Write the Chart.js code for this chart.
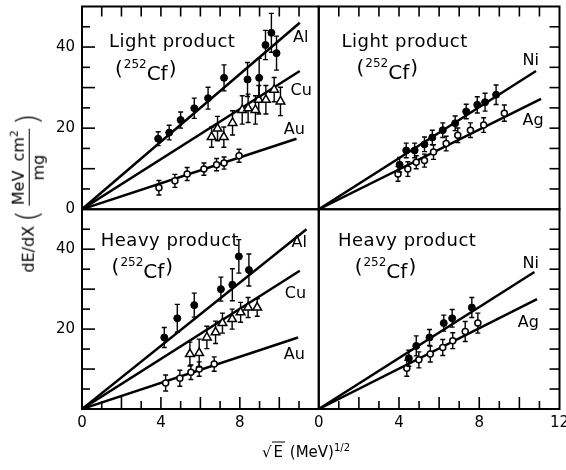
<!DOCTYPE html>
<html>
<head>
<meta charset="utf-8">
<script src="https://cdn.jsdelivr.net/npm/chart.js@4.4.0/dist/chart.umd.min.js"></script>
<style>
  html, body { margin: 0; padding: 0; background: #fff; }
  #wrap { position: relative; width: 566px; height: 470px; }
  #chart { position: absolute; left: 0; top: 0; }
  #ytitle {
    position: absolute; left: 28px; top: 191px;
    transform: translate(-50%, -50%) rotate(-90deg);
    display: flex; align-items: center; white-space: nowrap;
    font: 16px "DejaVu Sans", sans-serif; color: #000;
  }
  #ytitle .paren { font-size: 30px; font-weight: 200; line-height: 1; margin: 0 4px; }
  #ytitle .frac { display: inline-flex; flex-direction: column; align-items: center; line-height: 1.1; }
  #ytitle .num { border-bottom: 1.5px solid #000; padding: 0 1px 1px; word-spacing: 4px; }
  #ytitle sup { font-size: 11px; }
  #xtitle {
    position: absolute; left: 306px; top: 451px;
    transform: translate(-50%, -50%);
    white-space: nowrap; font: 15px "DejaVu Sans", sans-serif; color: #000;
  }
  #xtitle .radE { border-top: 1.5px solid #000; padding: 0 2px; }
  #xtitle sup { font-size: 10px; }
</style>
</head>
<body>
<div id="wrap">
  <canvas id="chart" width="566" height="470"></canvas>
  <div id="ytitle"><span>dE/dX</span><span class="paren">(</span><span class="frac"><span class="num">MeV cm<sup>2</sup></span><span>mg</span></span><span class="paren">)</span></div>
  <div id="xtitle">√<span class="radE">E</span> (MeV)<sup>1/2</sup></div>
</div>
<script>
// tick labels
const xLabelsLeft = [0, 4, 8];
const xLabelsRight = [0, 4, 8, 12];
const yLabelsTop = [0, 20, 40];
const yLabelsBottom = [20, 40];

// Light product (252Cf) - top row
const lightAlX = [3.86, 4.42, 5.0, 5.69, 6.39, 7.2, 8.39, 8.98, 9.3, 9.6, 9.86];
const lightAlY = [17.4, 18.9, 22, 24.9, 27.4, 32.4, 32, 32.4, 40.5, 43.5, 38.5];
const lightAlErr = [1.7, 1.8, 2, 2.5, 2.7, 3.2, 4.2, 4.8, 3.6, 4.8, 4.2];
const lightCuX = [6.57, 6.87, 7.19, 7.63, 8.12, 8.42, 8.79, 8.96, 9.32, 9.74, 10.06];
const lightCuY = [17.8, 19.9, 17.8, 21.3, 24.5, 24.9, 24.5, 27, 27, 29.5, 26.6];
const lightCuErr = [2.5, 3, 2.5, 3, 3.5, 3.5, 3.5, 3.5, 3.5, 3, 3.5];
const lightAuX = [3.9, 4.71, 5.33, 6.18, 6.82, 7.2, 7.96];
const lightAuY = [5.3, 7, 8.7, 9.9, 11, 11.4, 13.2];
const lightAuErr = [1.8, 1.6, 1.6, 1.5, 1.5, 1.5, 1.6];
const lightNiX = [4.03, 4.36, 4.78, 5.27, 5.66, 6.18, 6.8, 7.35, 7.9, 8.29, 8.84];
const lightNiY = [11, 14.5, 14.5, 16, 17.7, 19.5, 21.2, 24.1, 25.75, 26.4, 28.25];
const lightNiErr = [1.8, 1.8, 1.8, 1.8, 1.8, 1.8, 1.8, 1.8, 2, 2.2, 2.4];
const lightAgX = [3.95, 4.44, 4.86, 5.27, 5.72, 6.35, 6.93, 7.56, 8.22, 9.25];
const lightAgY = [8.7, 9.9, 11.6, 12, 14.1, 16.2, 18.25, 19.5, 20.75, 23.7];
const lightAgErr = [1.8, 1.8, 1.6, 1.6, 1.8, 1.8, 1.8, 1.8, 1.8, 2];

// Heavy product (252Cf) - bottom row
const heavyAlX = [4.17, 4.83, 5.69, 7.04, 7.62, 7.95, 8.46];
const heavyAlY = [17.9, 22.7, 26, 30, 31.1, 38.2, 34.8];
const heavyAlErr = [2.5, 3.5, 3, 3, 4, 4.2, 4];
const heavyCuX = [5.47, 5.94, 6.33, 6.77, 7.12, 7.61, 8.04, 8.42, 8.88];
const heavyCuY = [13.75, 14, 17.9, 19.2, 21.5, 22.5, 24.2, 25.4, 25.4];
const heavyCuErr = [3, 3.5, 2.8, 2.8, 2.5, 2.5, 2.5, 2.5, 2.2];
const heavyAuX = [4.24, 4.96, 5.52, 5.94, 6.7];
const heavyAuY = [6.5, 7.7, 9.2, 10, 11.25];
const heavyAuErr = [2, 2, 1.8, 1.8, 1.8];
const heavyNiX = [4.49, 4.86, 5.52, 6.23, 6.65, 7.63];
const heavyNiY = [12.7, 15.8, 17.9, 21.5, 22.7, 25.4];
const heavyNiErr = [2, 2.5, 2, 2, 2.2, 2.5];
const heavyAgX = [4.39, 4.99, 5.56, 6.18, 6.68, 7.3, 7.93];
const heavyAgY = [10.2, 12.3, 13.75, 15.4, 17.1, 19.4, 21.5];
const heavyAgErr = [2, 2, 2, 2, 2, 2.5, 2.5];

// fitted straight lines through the origin: [x end, y end]
const lightAlLine = [11.04, 46];
const lightCuLine = [11.04, 34.1];
const lightAuLine = [10.87, 17.4];
const lightNiLine = [10.83, 34.1];
const lightAgLine = [11.08, 27.2];
const heavyAlLine = [11.38, 45];
const heavyCuLine = [11.04, 34.6];
const heavyAuLine = [10.95, 17.9];
const heavyNiLine = [10.75, 34.3];
const heavyAgLine = [10.88, 27.5];

// panel text
const panelNames = ['Light product', 'Light product', 'Heavy product', 'Heavy product'];

const panels = [
  {x: 'xL', y: 'yT', name: panelNames[0], nameAt: [1.37, 40], cfAt: [1.67, 31.8],
   tags: [['Al', 10.7, 41.2], ['Cu', 10.57, 28.1], ['Au', 10.23, 18.6]]},
  {x: 'xR', y: 'yT', name: panelNames[1], nameAt: [1.13, 40], cfAt: [1.88, 32.2],
   tags: [['Ni', 10.16, 35.5], ['Ag', 10.16, 20.7]]},
  {x: 'xL', y: 'yB', name: panelNames[2], nameAt: [0.95, 40.75], cfAt: [1.5, 32.7],
   tags: [['Al', 10.62, 40.6], ['Cu', 10.28, 27.7], ['Au', 10.23, 12.4]]},
  {x: 'xR', y: 'yB', name: panelNames[3], nameAt: [0.96, 40.75], cfAt: [1.79, 32.7],
   tags: [['Ni', 10.16, 35.2], ['Ag', 9.92, 20.6]]}
];

const FONT = '"DejaVu Sans", sans-serif';

const filled = {pointStyle: 'circle', pointRadius: 3.5, backgroundColor: '#000', borderColor: '#000', borderWidth: 1};
const openCircle = {pointStyle: 'circle', pointRadius: 3, backgroundColor: '#fff', borderColor: '#000', borderWidth: 1.5};
const openTriangle = {pointStyle: 'triangle', pointRadius: 5, backgroundColor: '#fff', borderColor: '#000', borderWidth: 1.5};

function marks(label, xs, ys, errs, style, xId, yId) {
  return Object.assign({
    label: label,
    data: xs.map((x, i) => ({x: x, y: ys[i], err: errs[i]})),
    xAxisID: xId,
    yAxisID: yId,
    showLine: false,
    order: 1
  }, style);
}

function fitLine(label, end, xId, yId) {
  return {
    label: label + ' fit',
    type: 'line',
    data: [{x: 0, y: 0}, {x: end[0], y: end[1]}],
    xAxisID: xId,
    yAxisID: yId,
    borderColor: '#000',
    borderWidth: 2.5,
    pointRadius: 0,
    fill: false,
    order: 2
  };
}

const datasets = [
  fitLine('Light Al', lightAlLine, 'xL', 'yT'),
  fitLine('Light Cu', lightCuLine, 'xL', 'yT'),
  fitLine('Light Au', lightAuLine, 'xL', 'yT'),
  fitLine('Light Ni', lightNiLine, 'xR', 'yT'),
  fitLine('Light Ag', lightAgLine, 'xR', 'yT'),
  fitLine('Heavy Al', heavyAlLine, 'xL', 'yB'),
  fitLine('Heavy Cu', heavyCuLine, 'xL', 'yB'),
  fitLine('Heavy Au', heavyAuLine, 'xL', 'yB'),
  fitLine('Heavy Ni', heavyNiLine, 'xR', 'yB'),
  fitLine('Heavy Ag', heavyAgLine, 'xR', 'yB'),
  marks('Light Al', lightAlX, lightAlY, lightAlErr, filled, 'xL', 'yT'),
  marks('Light Cu', lightCuX, lightCuY, lightCuErr, openTriangle, 'xL', 'yT'),
  marks('Light Au', lightAuX, lightAuY, lightAuErr, openCircle, 'xL', 'yT'),
  marks('Light Ni', lightNiX, lightNiY, lightNiErr, filled, 'xR', 'yT'),
  marks('Light Ag', lightAgX, lightAgY, lightAgErr, openCircle, 'xR', 'yT'),
  marks('Heavy Al', heavyAlX, heavyAlY, heavyAlErr, filled, 'xL', 'yB'),
  marks('Heavy Cu', heavyCuX, heavyCuY, heavyCuErr, openTriangle, 'xL', 'yB'),
  marks('Heavy Au', heavyAuX, heavyAuY, heavyAuErr, openCircle, 'xL', 'yB'),
  marks('Heavy Ni', heavyNiX, heavyNiY, heavyNiErr, filled, 'xR', 'yB'),
  marks('Heavy Ag', heavyAgX, heavyAgY, heavyAgErr, openCircle, 'xR', 'yB')
];

// error bars, drawn just before each marker set so markers sit on top
const errorBars = {
  id: 'errorBars',
  beforeDatasetDraw(chart, args) {
    const ds = chart.data.datasets[args.index];
    if (ds.type === 'line') return;
    const meta = args.meta;
    const ys = chart.scales[ds.yAxisID];
    const ctx = chart.ctx;
    ctx.save();
    ctx.strokeStyle = '#000';
    ctx.lineWidth = 1.4;
    meta.data.forEach((pt, i) => {
      const d = ds.data[i];
      const top = ys.getPixelForValue(d.y + d.err);
      const bot = ys.getPixelForValue(d.y - d.err);
      ctx.beginPath();
      ctx.moveTo(pt.x, top); ctx.lineTo(pt.x, bot);
      ctx.moveTo(pt.x - 2.5, top); ctx.lineTo(pt.x + 2.5, top);
      ctx.moveTo(pt.x - 2.5, bot); ctx.lineTo(pt.x + 2.5, bot);
      ctx.stroke();
    });
    ctx.restore();
  }
};

function seg(ctx, x1, y1, x2, y2) {
  ctx.beginPath();
  ctx.moveTo(x1, y1);
  ctx.lineTo(x2, y2);
  ctx.stroke();
}

// frames, inward ticks and panel annotations
const frames = {
  id: 'frames',
  afterDraw(chart) {
    const ctx = chart.ctx;
    const s = chart.scales;
    ctx.save();
    ctx.strokeStyle = '#000';
    ctx.fillStyle = '#000';

    ctx.lineWidth = 2;
    panels.forEach(p => {
      const xs = s[p.x], ys = s[p.y];
      ctx.strokeRect(xs.left, ys.top, xs.right - xs.left, ys.bottom - ys.top);
    });

    ctx.lineWidth = 1.6;
    [s.xL, s.xR].forEach(xs => {
      xs.ticks.forEach(t => {
        if (t.value <= xs.min || t.value >= xs.max) return;
        const px = xs.getPixelForValue(t.value);
        seg(ctx, px, s.yT.top, px, s.yT.top + 10);
        const len = t.value % 2 === 0 ? 12 : 8;
        seg(ctx, px, s.yB.bottom, px, s.yB.bottom - len);
      });
    });
    [s.yT, s.yB].forEach(ys => {
      ys.ticks.forEach(t => {
        if (t.value <= ys.min || t.value >= ys.max) return;
        const py = ys.getPixelForValue(t.value);
        const len = t.value % 10 === 0 ? 13 : 8;
        seg(ctx, s.xL.left, py, s.xL.left + len, py);
        seg(ctx, s.xR.right, py, s.xR.right - 10, py);
      });
    });

    ctx.textBaseline = 'alphabetic';
    ctx.textAlign = 'left';
    panels.forEach(p => {
      const xs = s[p.x], ys = s[p.y];
      ctx.font = '18px ' + FONT;
      ctx.letterSpacing = '0.5px';
      ctx.fillText(p.name, xs.getPixelForValue(p.nameAt[0]), ys.getPixelForValue(p.nameAt[1]));

      let cx = xs.getPixelForValue(p.cfAt[0]);
      const cy = ys.getPixelForValue(p.cfAt[1]);
      ctx.letterSpacing = '0px';
      ctx.font = '20px ' + FONT;
      ctx.fillText('(', cx, cy - 5);
      cx += ctx.measureText('(').width + 1;
      ctx.font = '12px ' + FONT;
      ctx.fillText('252', cx, cy - 12);
      cx += ctx.measureText('252').width;
      ctx.font = '20px ' + FONT;
      ctx.fillText('Cf', cx, cy);
      cx += ctx.measureText('Cf').width + 1;
      ctx.fillText(')', cx, cy - 5);

      ctx.font = '16px ' + FONT;
      p.tags.forEach(tag => {
        ctx.fillText(tag[0], xs.getPixelForValue(tag[1]), ys.getPixelForValue(tag[2]));
      });
    });
    ctx.restore();
  }
};

function xAxis(labels, weight) {
  return {
    type: 'linear', position: 'bottom', stack: 'x', stackWeight: weight,
    min: 0, max: 12,
    grid: {display: false, drawTicks: false},
    border: {display: false},
    ticks: {
      stepSize: 1, autoSkip: false, maxRotation: 0, padding: 5, color: '#000',
      font: {family: FONT, size: 15},
      callback: v => labels.includes(v) ? String(v) : ''
    },
    afterFit: sc => { sc.height = 25; sc.paddingLeft = 0; sc.paddingRight = 0; }
  };
}

function yAxis(labels, weight) {
  return {
    type: 'linear', position: 'left', stack: 'y', stackWeight: weight,
    min: 0, max: 50,
    grid: {display: false, drawTicks: false},
    border: {display: false},
    ticks: {
      stepSize: 5, autoSkip: false, padding: 7, color: '#000',
      font: {family: FONT, size: 15},
      callback: v => labels.includes(v) ? String(v) : ''
    },
    afterFit: sc => { sc.width = 40; sc.paddingTop = 0; sc.paddingBottom = 0; }
  };
}

new Chart(document.getElementById('chart'), {
  type: 'scatter',
  data: {datasets: datasets},
  options: {
    responsive: false,
    animation: false,
    layout: {padding: {left: 42, right: 6, top: 6, bottom: 36}},
    plugins: {legend: {display: false}, tooltip: {enabled: false}},
    scales: {
      xL: xAxis(xLabelsLeft, 237),
      xR: xAxis(xLabelsRight, 241),
      // left-hand stacks are placed in reverse order, so the bottom axis comes first
      yB: yAxis(yLabelsBottom, 200),
      yT: yAxis(yLabelsTop, 203)
    }
  },
  plugins: [errorBars, frames]
});
</script>
</body>
</html>
